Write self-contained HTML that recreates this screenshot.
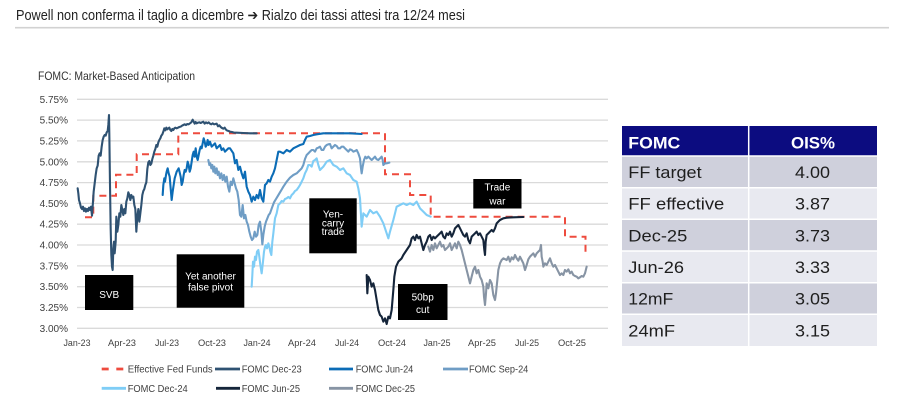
<!DOCTYPE html>
<html>
<head>
<meta charset="utf-8">
<style>
html,body{margin:0;padding:0;background:#fff;}
body{width:903px;height:417px;overflow:hidden;}
svg{display:block;font-family:"Liberation Sans",sans-serif;}
</style>
</head>
<body>
<svg width="903" height="417" viewBox="0 0 903 417" xmlns="http://www.w3.org/2000/svg">
<!-- Title -->
<text x="16" y="20" font-size="14.5" fill="#222" textLength="449" lengthAdjust="spacingAndGlyphs">Powell non conferma il taglio a dicembre ➔ Rialzo dei tassi attesi tra 12/24 mesi</text>
<line x1="15" y1="27.7" x2="889" y2="27.7" stroke="#d2d2d2" stroke-width="1.6"/>

<!-- Chart title -->
<text x="38" y="80" font-size="12" fill="#333" textLength="157" lengthAdjust="spacingAndGlyphs">FOMC: Market-Based Anticipation</text>

<!-- Gridlines -->
<g stroke="#dadada" stroke-width="1.3">
<line x1="77" x2="608" y1="99.3" y2="99.3"/>
<line x1="77" x2="608" y1="120.1" y2="120.1"/>
<line x1="77" x2="608" y1="140.9" y2="140.9"/>
<line x1="77" x2="608" y1="161.8" y2="161.8"/>
<line x1="77" x2="608" y1="182.6" y2="182.6"/>
<line x1="77" x2="608" y1="203.4" y2="203.4"/>
<line x1="77" x2="608" y1="224.2" y2="224.2"/>
<line x1="77" x2="608" y1="245.0" y2="245.0"/>
<line x1="77" x2="608" y1="265.9" y2="265.9"/>
<line x1="77" x2="608" y1="286.7" y2="286.7"/>
<line x1="77" x2="608" y1="307.5" y2="307.5"/>
<line x1="77" x2="608" y1="328.3" y2="328.3"/>
</g>

<!-- Y labels -->
<g font-size="10" fill="#404040" text-anchor="end">
<text x="68" y="102.8">5.75%</text>
<text x="68" y="123.6">5.50%</text>
<text x="68" y="144.4">5.25%</text>
<text x="68" y="165.3">5.00%</text>
<text x="68" y="186.1">4.75%</text>
<text x="68" y="206.9">4.50%</text>
<text x="68" y="227.7">4.25%</text>
<text x="68" y="248.5">4.00%</text>
<text x="68" y="269.4">3.75%</text>
<text x="68" y="290.2">3.50%</text>
<text x="68" y="311.0">3.25%</text>
<text x="68" y="331.8">3.00%</text>
</g>

<!-- X labels -->
<g font-size="9.5" fill="#404040" text-anchor="middle">
<text x="77" y="346" textLength="27" lengthAdjust="spacingAndGlyphs">Jan-23</text>
<text x="122" y="346" textLength="28" lengthAdjust="spacingAndGlyphs">Apr-23</text>
<text x="167" y="346" textLength="24" lengthAdjust="spacingAndGlyphs">Jul-23</text>
<text x="212" y="346" textLength="28" lengthAdjust="spacingAndGlyphs">Oct-23</text>
<text x="257" y="346" textLength="27" lengthAdjust="spacingAndGlyphs">Jan-24</text>
<text x="302" y="346" textLength="28" lengthAdjust="spacingAndGlyphs">Apr-24</text>
<text x="347" y="346" textLength="24" lengthAdjust="spacingAndGlyphs">Jul-24</text>
<text x="392" y="346" textLength="28" lengthAdjust="spacingAndGlyphs">Oct-24</text>
<text x="437" y="346" textLength="27" lengthAdjust="spacingAndGlyphs">Jan-25</text>
<text x="482" y="346" textLength="28" lengthAdjust="spacingAndGlyphs">Apr-25</text>
<text x="527" y="346" textLength="24" lengthAdjust="spacingAndGlyphs">Jul-25</text>
<text x="572" y="346" textLength="28" lengthAdjust="spacingAndGlyphs">Oct-25</text>
</g>

<!-- Effective Fed Funds -->
<path d="M85,217.3 H93.3 V195.7 H116 V174.7 H136.7 V154.3 H178.3 V133.3 H385 V174.3 H410 V195 H430.7 V216.7 H565 V236.7 H585.5 V256.7" fill="none" stroke="#ee4b3e" stroke-width="2" stroke-dasharray="7,5"/>

<!-- Series -->
<g transform="translate(30,85) scale(0.333333)" fill="none" stroke-width="6.3" stroke-linejoin="round" stroke-linecap="round">
<!-- Dec-23 -->
<polyline stroke="#2f5272" points="143,310 145,325 147,345 150,355 153,368 156,372 159,365 162,378 165,370 168,380 171,372 174,378 177,368 180,375 183,365 186,392 189,350 191,320 194,295 197,270 200,250 203,242 206,212 209,205 212,212 215,185 218,165 221,155 224,150 227,152 230,142 233,138 235,120 237,90 238,150 240,300 242,430 244,510 246,545 248,555 250,490 252,470 254,505 257,470 259,395 262,440 265,420 268,385 271,395 274,360 277,375 280,390 283,372 286,385 289,350 292,340 295,322 298,330 301,345 304,330 307,338 310,335 313,360 316,372 319,440 322,395 325,372 328,410 331,385 334,360 337,330 340,318 343,312 346,300 349,292 352,252 355,232 358,228 361,240 364,236 367,222 370,212 373,200 376,192 379,180 382,185 385,172 388,165 391,160 394,152 397,148 400,140 403,130 406,136 409,128 412,133 415,130 418,128 421,135 424,138 427,132 430,135 433,130 436,128 440,130 444,128 448,126 452,125 456,122 460,120 464,118 468,120 472,117 476,118 480,115 484,112 488,104 491,110 494,116 497,111 500,115 504,113 508,112 512,114 516,112 520,110 524,116 528,112 532,115 536,112 540,116 544,118 548,115 552,118 556,117 560,116 564,124 568,121 572,126 576,129 580,131 584,128 588,134 592,137 596,138 600,140 606,141 612,143 620,143 640,144 660,145 680,145"/>
<!-- Jun-24 -->
<polyline stroke="#0b6cb6" points="398,330 400,300 403,280 405,290 408,270 410,260 413,250 416,265 419,275 422,310 425,345 428,320 431,300 434,280 437,270 440,260 443,255 446,250 449,262 452,275 455,300 458,290 461,270 464,255 467,260 470,250 473,230 476,240 479,260 482,250 485,230 488,210 491,200 494,215 497,190 500,215 503,225 506,210 509,195 512,185 515,190 518,175 521,160 524,170 527,185 530,180 533,165 536,180 540,170 545,185 550,180 555,175 560,190 565,185 570,180 575,195 580,190 585,200 590,195 595,190 600,190 610,205 615,235 620,225 625,255 630,245 635,265 640,280 645,260 650,305 655,320 660,330 665,350 670,335 675,345 680,330 685,340 690,315 695,340 700,350 705,300 710,295 715,285 720,290 725,275 730,265 735,250 740,225 745,200 750,200 760,205 770,195 780,200 790,190 800,185 810,180 820,177 825,165 830,155 840,153 850,150 860,148 880,145 900,145 930,145 960,145 995,147"/>
<!-- Sep-24 -->
<polyline stroke="#6f9dc5" points="535,225 538,240 541,235 544,250 547,240 550,260 553,245 556,265 560,250 563,270 566,260 570,280 574,265 578,285 582,270 586,290 590,275 594,305 598,320 602,290 606,300 610,280 614,295 618,310 622,320 626,345 630,390 634,395 638,360 642,400 646,390 650,410 654,420 658,440 662,455 666,465 670,460 674,440 678,455 682,450 686,420 690,410 694,440 697,478 700,450 704,425 708,410 712,400 716,390 720,385 726,368 732,352 738,342 744,332 750,322 756,312 760,305 770,290 780,278 790,270 800,265 810,255 815,250 820,240 825,222 830,210 835,205 840,200 845,195 850,195 855,200 860,190 865,188 870,185 875,195 880,195 885,185 890,180 895,178 900,177 905,190 910,185 915,180 920,183 925,190 930,190 935,185 940,185 945,190 950,195 955,200 960,193 965,195 970,200 975,198 980,195 985,205 990,220 993,250 995,265 998,245 1002,225 1006,215 1010,220 1015,215 1020,220 1025,225 1030,220 1035,215 1040,223 1045,225 1050,220 1055,215 1058,225 1060,240 1065,235 1070,235 1078,233"/>
<!-- Dec-24 -->
<polyline stroke="#7fcdf6" points="665,605 667,570 669,530 672,545 675,515 678,525 681,500 685,495 688,515 691,540 695,565 699,530 702,500 705,485 708,480 711,490 715,475 718,485 721,500 724,510 727,470 730,445 735,400 740,385 745,360 750,355 755,348 760,350 765,342 770,340 775,336 780,340 785,330 790,325 795,318 800,315 805,308 810,300 815,290 820,280 825,265 830,255 835,240 840,240 845,245 850,228 855,225 860,220 865,240 870,255 880,245 890,230 900,225 910,240 920,245 930,255 940,250 950,265 960,270 970,285 980,290 985,310 990,340 995,425 1000,385 1010,395 1020,375 1030,385 1040,380 1050,395 1060,415 1070,445 1075,460 1080,440 1090,405 1095,385 1100,365 1110,360 1120,355 1130,360 1140,355 1150,360 1160,350 1165,360 1170,370 1180,380 1190,390 1202,395"/>
<!-- Jun-25 -->
<polyline stroke="#15253a" points="1010,570 1012,625 1015,575 1020,585 1025,605 1030,595 1035,615 1040,645 1045,675 1050,690 1055,695 1060,710 1065,700 1070,717 1075,695 1080,700 1085,675 1090,615 1093,575 1098,545 1105,530 1110,525 1115,520 1120,510 1130,495 1140,480 1145,460 1150,455 1155,465 1160,450 1165,460 1170,455 1175,475 1180,495 1185,480 1190,470 1195,455 1200,450 1205,465 1210,455 1215,460 1220,455 1230,445 1235,440 1240,455 1245,460 1250,445 1255,450 1260,440 1265,455 1270,445 1275,430 1280,425 1285,420 1290,430 1295,440 1300,450 1305,455 1310,445 1315,465 1320,475 1325,455 1330,450 1335,445 1340,440 1345,450 1350,445 1355,455 1360,465 1363,495 1365,510 1367,470 1370,450 1375,445 1380,440 1385,435 1390,440 1395,430 1400,415 1405,410 1410,405 1420,400 1430,398 1450,397 1480,396"/>
<!-- Dec-25 -->
<polyline stroke="#8794a4" points="1195,485 1200,500 1205,480 1210,495 1215,475 1220,490 1230,470 1235,485 1240,480 1245,495 1250,490 1255,485 1260,475 1265,495 1270,485 1275,475 1280,490 1285,470 1290,480 1295,495 1300,515 1305,535 1310,555 1315,575 1320,595 1325,575 1330,555 1335,545 1340,565 1345,555 1350,575 1355,585 1360,605 1362,635 1365,660 1368,625 1370,595 1375,610 1380,585 1385,595 1390,630 1395,645 1398,625 1402,585 1405,555 1410,535 1415,525 1420,520 1430,525 1435,515 1440,530 1445,517 1450,523 1455,510 1460,520 1465,527 1470,515 1475,525 1480,535 1485,555 1490,540 1495,523 1500,515 1505,510 1510,505 1515,515 1520,505 1525,500 1530,495 1533,480 1535,515 1538,530 1540,545 1545,535 1550,540 1555,530 1560,520 1565,535 1570,545 1575,540 1580,550 1585,560 1590,570 1595,565 1600,570 1605,555 1610,560 1615,553 1620,565 1625,560 1630,570 1635,573 1640,575 1645,580 1650,577 1655,573 1660,575 1665,565 1670,545"/>
</g>

<!-- Annotation boxes -->
<g fill="#000">
<rect x="85" y="275" width="48.3" height="35"/>
<rect x="176.7" y="254.3" width="67.6" height="53.4"/>
<rect x="309.3" y="198.3" width="47.4" height="55"/>
<rect x="398" y="284" width="49.5" height="36"/>
<rect x="473.3" y="179" width="48.2" height="29.5"/>
</g>
<g fill="#fff" font-size="10" text-anchor="middle">
<text x="109.2" y="298">SVB</text>
<text x="210.5" y="279.3">Yet another</text>
<text x="210.5" y="290.5">false pivot</text>
<text x="333" y="217.5">Yen-</text>
<text x="333" y="226.5">carry</text>
<text x="333" y="235">trade</text>
<text x="422.7" y="300.3">50bp</text>
<text x="422.7" y="312.8">cut</text>
<text x="497.4" y="190.3">Trade</text>
<text x="497.4" y="204.3">war</text>
</g>

<!-- Legend -->
<g stroke-width="2.8" fill="none">
<line x1="101.7" y1="369" x2="123.3" y2="369" stroke="#ee4b3e" stroke-dasharray="7,7.6"/>
<line x1="215" y1="369" x2="240" y2="369" stroke="#2f5272"/>
<line x1="329" y1="369" x2="353" y2="369" stroke="#0b6cb6"/>
<line x1="443" y1="369" x2="468" y2="369" stroke="#6f9dc5"/>
<line x1="101.7" y1="388.3" x2="126" y2="388.3" stroke="#7fcdf6"/>
<line x1="216" y1="388.3" x2="240" y2="388.3" stroke="#15253a"/>
<line x1="329" y1="388.3" x2="353" y2="388.3" stroke="#8794a4"/>
</g>
<g font-size="10" fill="#404040">
<text x="127.7" y="372.5" textLength="85" lengthAdjust="spacingAndGlyphs">Effective Fed Funds</text>
<text x="241.7" y="372.5" textLength="60" lengthAdjust="spacingAndGlyphs">FOMC Dec-23</text>
<text x="355.7" y="372.5" textLength="57.6" lengthAdjust="spacingAndGlyphs">FOMC Jun-24</text>
<text x="469" y="372.5" textLength="59.3" lengthAdjust="spacingAndGlyphs">FOMC Sep-24</text>
<text x="127.7" y="392" textLength="60" lengthAdjust="spacingAndGlyphs">FOMC Dec-24</text>
<text x="241.7" y="392" textLength="58.3" lengthAdjust="spacingAndGlyphs">FOMC Jun-25</text>
<text x="355.7" y="392" textLength="59.3" lengthAdjust="spacingAndGlyphs">FOMC Dec-25</text>
</g>

<!-- Table -->
<g>
<rect x="622" y="126" width="255" height="30" fill="#0c0c80"/>
<rect x="622" y="156" width="255" height="31.7" fill="#cfd0dc"/>
<rect x="622" y="187.7" width="255" height="31.6" fill="#e8e9f0"/>
<rect x="622" y="219.3" width="255" height="31.7" fill="#cfd0dc"/>
<rect x="622" y="251" width="255" height="31.7" fill="#e8e9f0"/>
<rect x="622" y="282.7" width="255" height="31.6" fill="#cfd0dc"/>
<rect x="622" y="314.3" width="255" height="31.7" fill="#e8e9f0"/>
<g stroke="#fff" stroke-width="1.5">
<line x1="748.7" y1="126" x2="748.7" y2="346"/>
<line x1="622" y1="156" x2="877" y2="156"/>
<line x1="622" y1="187.7" x2="877" y2="187.7"/>
<line x1="622" y1="219.3" x2="877" y2="219.3"/>
<line x1="622" y1="251" x2="877" y2="251"/>
<line x1="622" y1="282.7" x2="877" y2="282.7"/>
<line x1="622" y1="314.3" x2="877" y2="314.3"/>
</g>
</g>
<g font-size="17" fill="#1e1e1e">
<text x="628.3" y="148.3" fill="#fff" font-weight="bold" textLength="52" lengthAdjust="spacingAndGlyphs">FOMC</text>
<text x="813" y="148.3" fill="#fff" font-weight="bold" text-anchor="middle" textLength="44" lengthAdjust="spacingAndGlyphs">OIS%</text>
<text x="628.3" y="178" textLength="73.3" lengthAdjust="spacingAndGlyphs">FF target</text>
<text x="628.3" y="209.7" textLength="96" lengthAdjust="spacingAndGlyphs">FF effective</text>
<text x="628.3" y="241.3" textLength="59" lengthAdjust="spacingAndGlyphs">Dec-25</text>
<text x="628.3" y="273" textLength="55.7" lengthAdjust="spacingAndGlyphs">Jun-26</text>
<text x="628.3" y="304.7" textLength="45" lengthAdjust="spacingAndGlyphs">12mF</text>
<text x="628.3" y="336.3" textLength="46.7" lengthAdjust="spacingAndGlyphs">24mF</text>
<g text-anchor="middle">
<text x="812.5" y="178" textLength="35" lengthAdjust="spacingAndGlyphs">4.00</text>
<text x="812.5" y="209.7" textLength="35" lengthAdjust="spacingAndGlyphs">3.87</text>
<text x="812.5" y="241.3" textLength="35" lengthAdjust="spacingAndGlyphs">3.73</text>
<text x="812.5" y="273" textLength="35" lengthAdjust="spacingAndGlyphs">3.33</text>
<text x="812.5" y="304.7" textLength="35" lengthAdjust="spacingAndGlyphs">3.05</text>
<text x="812.5" y="336.3" textLength="35" lengthAdjust="spacingAndGlyphs">3.15</text>
</g>
</g>
</svg>
</body>
</html>
